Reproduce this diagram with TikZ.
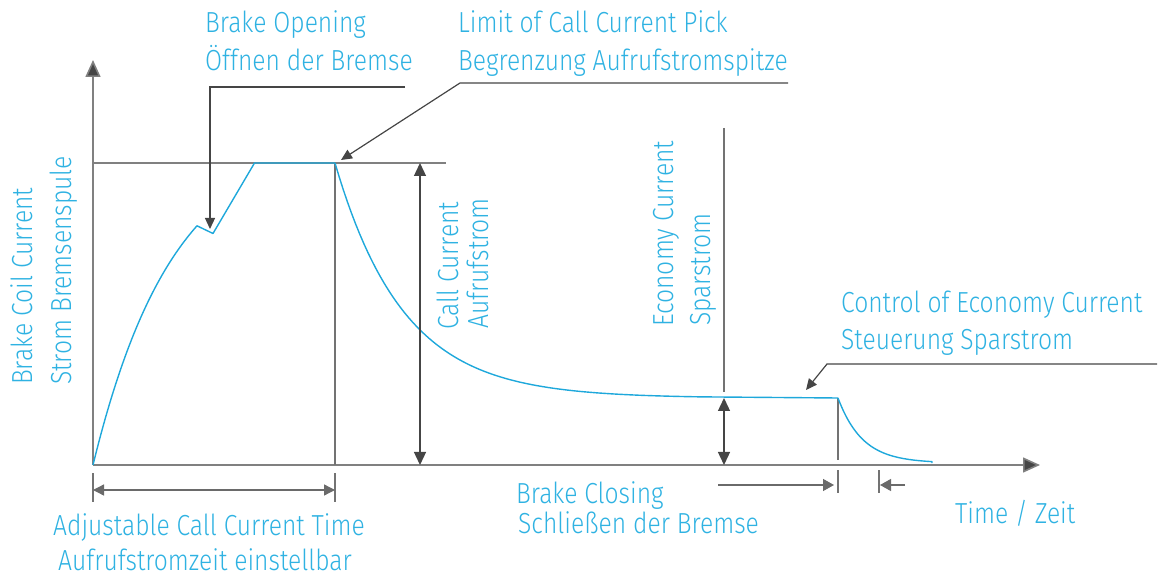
\documentclass[tikz,border=0pt]{standalone}
\usepackage{fontspec}
\setmainfont{Fira Sans Light}[FakeStretch=0.85]
\usetikzlibrary{arrows.meta}
\definecolor{cy}{HTML}{1EA8DB}
\definecolor{txt}{HTML}{2FB2E2}
\definecolor{axisgray}{HTML}{808080}
\definecolor{dark}{HTML}{454545}
\newcommand{\lblfont}{\fontsize{29}{35}\selectfont}
\tikzset{
  lbl/.style={text=txt, font=\lblfont, inner sep=0pt, anchor=base west},
  rlbl/.style={lbl, rotate=90},
  axisline/.style={draw=axisgray, line width=1.6pt},
  guide/.style={draw=axisgray!90!black, line width=1.4pt},
  curve/.style={draw=cy, line width=1.4pt, line join=round},
  pointer/.style={draw=dark, line width=1.2pt, -{Triangle[length=11pt,width=10pt]}},
  dimarrow/.style={draw=dark, line width=1.3pt, {Triangle[length=13pt,width=12pt]}-{Triangle[length=13pt,width=12pt]}},
  hdim/.style={draw=dark!80, line width=1.3pt, {Triangle[length=11pt,width=11pt]}-{Triangle[length=11pt,width=11pt]}},
  onehead/.style={draw=dark!80, line width=1.3pt, -{Triangle[length=11pt,width=12pt]}},
}
\begin{document}
\begin{tikzpicture}[x=1pt,y=-1pt]
\useasboundingbox (0,0) rectangle (1171,577);
% key coordinates
\coordinate (O) at (93,465);
\coordinate (ytip) at (93,60);
\coordinate (xtip) at (1040,465);
\coordinate (topL) at (93,163);
\coordinate (topR) at (446,163);
\coordinate (peak) at (197,225.8);
\coordinate (dip) at (213,233.5);
\coordinate (flatA) at (254.5,163);
\coordinate (flatB) at (335,163);
\coordinate (ecoB) at (838,398);
\coordinate (tailE) at (932,463);
% axes
\draw[axisline] (O) -- (topL);
\draw[axisline, -{Triangle[length=17pt,width=15pt,fill=dark]}] (O) -- (ytip);
\draw[axisline, -{Triangle[length=17pt,width=15pt,fill=dark]}] (O) -- (xtip);
\draw[axisline] (topL) -- (topR);
% vertical guides
\coordinate (v1t) at (335,163); \coordinate (v1b) at (335,465);
\draw[guide] (v1t) -- (v1b);
\coordinate (v2t) at (724,128); \coordinate (v2b) at (724,392);
\draw[guide] (v2t) -- (v2b);
\coordinate (v3t) at (838,398); \coordinate (v3b) at (838,460);
\draw[guide] (v3t) -- (v3b);
% ticks below axis
\coordinate (t1a) at (93,473); \coordinate (t1b) at (93,502);
\coordinate (t2a) at (335,473); \coordinate (t2b) at (335,502);
\coordinate (t3a) at (838,470); \coordinate (t3b) at (838,493);
\coordinate (t4a) at (879,470); \coordinate (t4b) at (879,493);
\draw[guide] (t1a) -- (t1b);
\draw[guide] (t2a) -- (t2b);
\draw[guide] (t3a) -- (t3b);
\draw[guide] (t4a) -- (t4b);
% curve
\draw[curve] plot[domain=0:104, samples=60] ({93+\x},{465-330*(1-exp(-\x/80.6))})
  -- (dip) -- (flatA) -- (flatB);
\draw[curve] plot[domain=0:365, samples=90] ({335+\x},{398-235*exp(-\x/68.6)}) -- (ecoB);
\draw[curve] plot[domain=0:94, samples=50] ({838+\x},{463-65*exp(-\x/24.4)}) -- (tailE);
% dimension arrows
\coordinate (ccT) at (420,163); \coordinate (ccB) at (420,465);
\draw[dimarrow] (ccT) -- (ccB);
\coordinate (ecT) at (724,398); \coordinate (ecB) at (724,465);
\draw[dimarrow] (ecT) -- (ecB);
\coordinate (adjL) at (93,490); \coordinate (adjR) at (335,490);
\draw[hdim] (adjL) -- (adjR);
\coordinate (bcL) at (718,485); \coordinate (bcR) at (834,485);
\draw[onehead] (bcL) -- (bcR);
\coordinate (bcL2) at (905,485); \coordinate (bcR2) at (880,485);
\draw[onehead] (bcL2) -- (bcR2);
% pointers
\coordinate (boA) at (405,87); \coordinate (boB) at (210,87); \coordinate (boTip) at (210,229);
\draw[pointer] (boA) -- (boB) -- (boTip);
\coordinate (liA) at (788,83); \coordinate (liB) at (460,83); \coordinate (liTip) at (341,160);
\draw[pointer] (liA) -- (liB) -- (liTip);
\coordinate (coA) at (1157,364); \coordinate (coB) at (827,364); \coordinate (coTip) at (806,390);
\draw[pointer] (coA) -- (coB) -- (coTip);
% labels
\node[lbl] (bo1) at (205,33) {Brake Opening};
\node[lbl] (bo2) at (205,71) {Öffnen der Bremse};
\node[lbl] (lim1) at (458,33) {Limit of Call Current Pick};
\node[lbl] (lim2) at (458,71) {Begrenzung Aufrufstromspitze};
\node[lbl] (ctl1) at (841,313) {Control of Economy Current};
\node[lbl] (ctl2) at (841,350) {Steuerung Sparstrom};
\node[lbl] (adj1) at (53,535) {Adjustable Call Current Time};
\node[lbl] (adj2) at (58,570) {Aufrufstromzeit einstellbar};
\node[lbl] (bc1) at (516,503) {Brake Closing};
\node[lbl] (bc2) at (518,533) {Schließen der Bremse};
\node[lbl] (tz) at (955,523) {Time / Zeit};
\node[rlbl] (ya1) at (32,385) {Brake Coil Current};
\node[rlbl] (ya2) at (71,385) {Strom Bremsenspule};
\node[rlbl] (cc1) at (458,330) {Call Current};
\node[rlbl] (cc2) at (488,329) {Aufrufstrom};
\node[rlbl] (ec1) at (673,327) {Economy Current};
\node[rlbl] (ec2) at (710,326) {Sparstrom};
\end{tikzpicture}
\end{document}
